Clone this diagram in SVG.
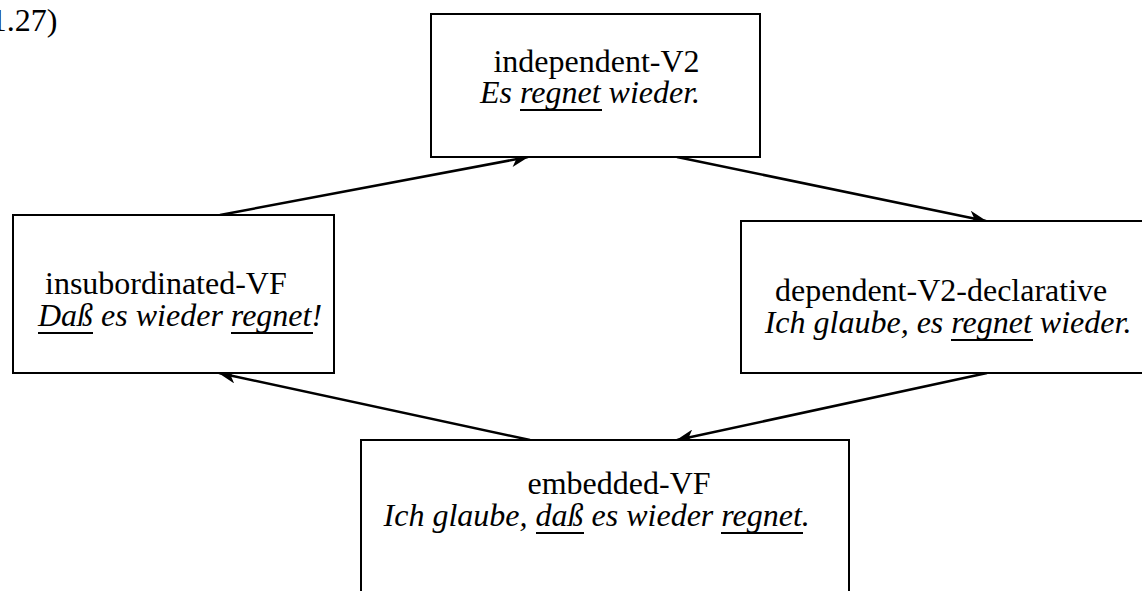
<svg xmlns="http://www.w3.org/2000/svg" width="1142" height="591" viewBox="0 0 1142 591">
  <style>
    .box { fill: #ffffff; stroke: #000000; stroke-width: 2; }
    .lbl { font-family: "Liberation Serif", "Times New Roman", serif; font-size: 32px; fill: #000000; }
    .ex { font-style: italic; }
    .ul { stroke: #000000; stroke-width: 2; }
    .edge { stroke: #000000; stroke-width: 2.5; fill: none; marker-end: url(#arrow); }
  </style>
  <defs>
    <!-- barbed arrowhead with a shallow notch -->
    <marker id="arrow" viewBox="0 0 18 14" refX="17" refY="7" markerWidth="18" markerHeight="14" markerUnits="userSpaceOnUse" orient="auto">
      <path d="M0,0 L18,7 L0,14 L5,7 Z" fill="#000000"/>
    </marker>
  </defs>

  <rect width="1142" height="591" fill="#ffffff"/>

  <text class="lbl" x="-20" y="31">(1.27)</text>

  <g id="connectors">
    <line class="edge" x1="220" y1="215" x2="528" y2="157"/>
    <line class="edge" x1="677" y1="157" x2="986" y2="221"/>
    <line class="edge" x1="987" y1="373" x2="677" y2="440"/>
    <line class="edge" x1="530" y1="440" x2="219" y2="373"/>
  </g>

  <g id="independent-V2">
    <rect class="box" x="431" y="14" width="329" height="143"/>
    <text class="lbl" x="493.4" y="72">independent-V2</text>
    <text class="lbl ex" x="480" y="103">Es regnet wieder.</text>
    <line class="ul" x1="520" y1="110" x2="602" y2="110"/>
  </g>

  <g id="insubordinated-VF">
    <rect class="box" x="13" y="215" width="321" height="158"/>
    <text class="lbl" x="45" y="294">insubordinated-VF</text>
    <text class="lbl ex" x="38" y="326">Daß es wieder regnet!</text>
    <line class="ul" x1="38" y1="333" x2="93" y2="333"/>
    <line class="ul" x1="231" y1="333" x2="313" y2="333"/>
  </g>

  <g id="dependent-V2-declarative">
    <rect class="box" x="741" y="221" width="410" height="152"/>
    <text class="lbl" x="775" y="301">dependent-V2-declarative</text>
    <text class="lbl ex" x="764.7" y="333">Ich glaube, es regnet wieder.</text>
    <line class="ul" x1="951" y1="340" x2="1033" y2="340"/>
  </g>

  <g id="embedded-VF">
    <rect class="box" x="361" y="440" width="488" height="170"/>
    <text class="lbl" x="527.5" y="494">embedded-VF</text>
    <text class="lbl ex" x="383.6" y="526">Ich glaube, daß es wieder regnet.</text>
    <line class="ul" x1="536" y1="533" x2="584" y2="533"/>
    <line class="ul" x1="721" y1="533" x2="803" y2="533"/>
  </g>
</svg>
